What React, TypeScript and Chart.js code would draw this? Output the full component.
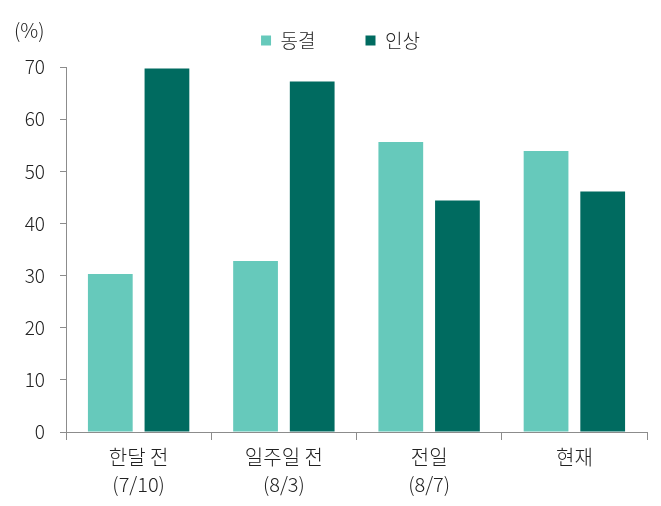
import { useEffect, useRef } from "react";
import { Chart, registerables, Plugin } from "chart.js";

Chart.register(...registerables);

const categories: string[][] = [
  ["한달 전", "(7/10)"],
  ["일주일 전", "(8/3)"],
  ["전일", "(8/7)"],
  ["현재"],
];
const freezeValues = [30.3, 32.8, 55.6, 53.9];
const hikeValues = [69.7, 67.2, 44.4, 46.1];
const seriesLabels = ["동결", "인상"];

const FONT = "'Noto Sans CJK KR', 'Noto Sans', sans-serif";
const TEXT = "#222222";
const AXIS = "#8c8c8c";

// "(%)" unit label above the y axis
const unitLabel: Plugin = {
  id: "unitLabel",
  afterDraw(chart) {
    const { ctx } = chart;
    ctx.save();
    ctx.font = `300 20px ${FONT}`;
    ctx.fillStyle = TEXT;
    ctx.textAlign = "left";
    ctx.textBaseline = "middle";
    ctx.fillText("(%)", 14, 30);
    ctx.restore();
  },
};

// fix legend block height, and centre it over the plot area rather than the canvas
const legendPlace: Plugin = {
  id: "legendPlace",
  beforeInit(chart: any) {
    const legend = chart.legend;
    if (!legend) return;
    const orig = legend.fit;
    legend.fit = function () {
      orig.bind(legend)();
      this.height = 86;
    };
  },
  afterLayout(chart: any) {
    if (chart.legend) chart.legend.left = 34;
  },
};

export default function App() {
  const canvasRef = useRef<HTMLCanvasElement>(null);

  useEffect(() => {
    if (!canvasRef.current) return;
    const chart = new Chart(canvasRef.current, {
      type: "bar",
      data: {
        labels: categories,
        datasets: [
          {
            label: seriesLabels[0],
            data: freezeValues,
            backgroundColor: "#66c9bb",
            categoryPercentage: 0.78,
            barPercentage: 0.79,
          },
          {
            label: seriesLabels[1],
            data: hikeValues,
            backgroundColor: "#006b60",
            categoryPercentage: 0.78,
            barPercentage: 0.79,
          },
        ],
      },
      options: {
        animation: false,
        responsive: true,
        maintainAspectRatio: false,
        layout: { padding: { top: -19, right: 14, bottom: 6, left: 0 } },
        plugins: {
          legend: {
            position: "top",
            align: "center",
            labels: {
              boxWidth: 10,
              boxHeight: 10,
              padding: 50,
              color: TEXT,
              font: { family: FONT, size: 19, weight: "300" },
            },
          },
          tooltip: { enabled: false },
        },
        scales: {
          x: {
            grid: {
              display: true,
              drawOnChartArea: false,
              drawTicks: true,
              tickLength: 8,
              color: AXIS,
              offset: true,
            },
            border: { display: true, color: AXIS },
            ticks: {
              color: TEXT,
              font: { family: FONT, size: 20, weight: "300", lineHeight: 1.35 },
              padding: 4,
              maxRotation: 0,
            },
            afterFit(scale) {
              scale.height = 68;
            },
          },
          y: {
            min: 0,
            max: 70,
            grid: {
              display: true,
              drawOnChartArea: false,
              drawTicks: true,
              tickLength: 6,
              color: AXIS,
            },
            border: { display: true, color: AXIS },
            ticks: {
              stepSize: 10,
              color: TEXT,
              font: { family: FONT, size: 19, weight: "300" },
              padding: 15,
            },
            afterFit(scale) {
              scale.width = 66;
            },
          },
        },
      },
      plugins: [unitLabel, legendPlace],
    });
    return () => chart.destroy();
  }, []);

  return (
    <div style={{ position: "fixed", left: 0, top: 0, width: 661, height: 506, background: "#fff" }}>
      <canvas ref={canvasRef}></canvas>
    </div>
  );
}
